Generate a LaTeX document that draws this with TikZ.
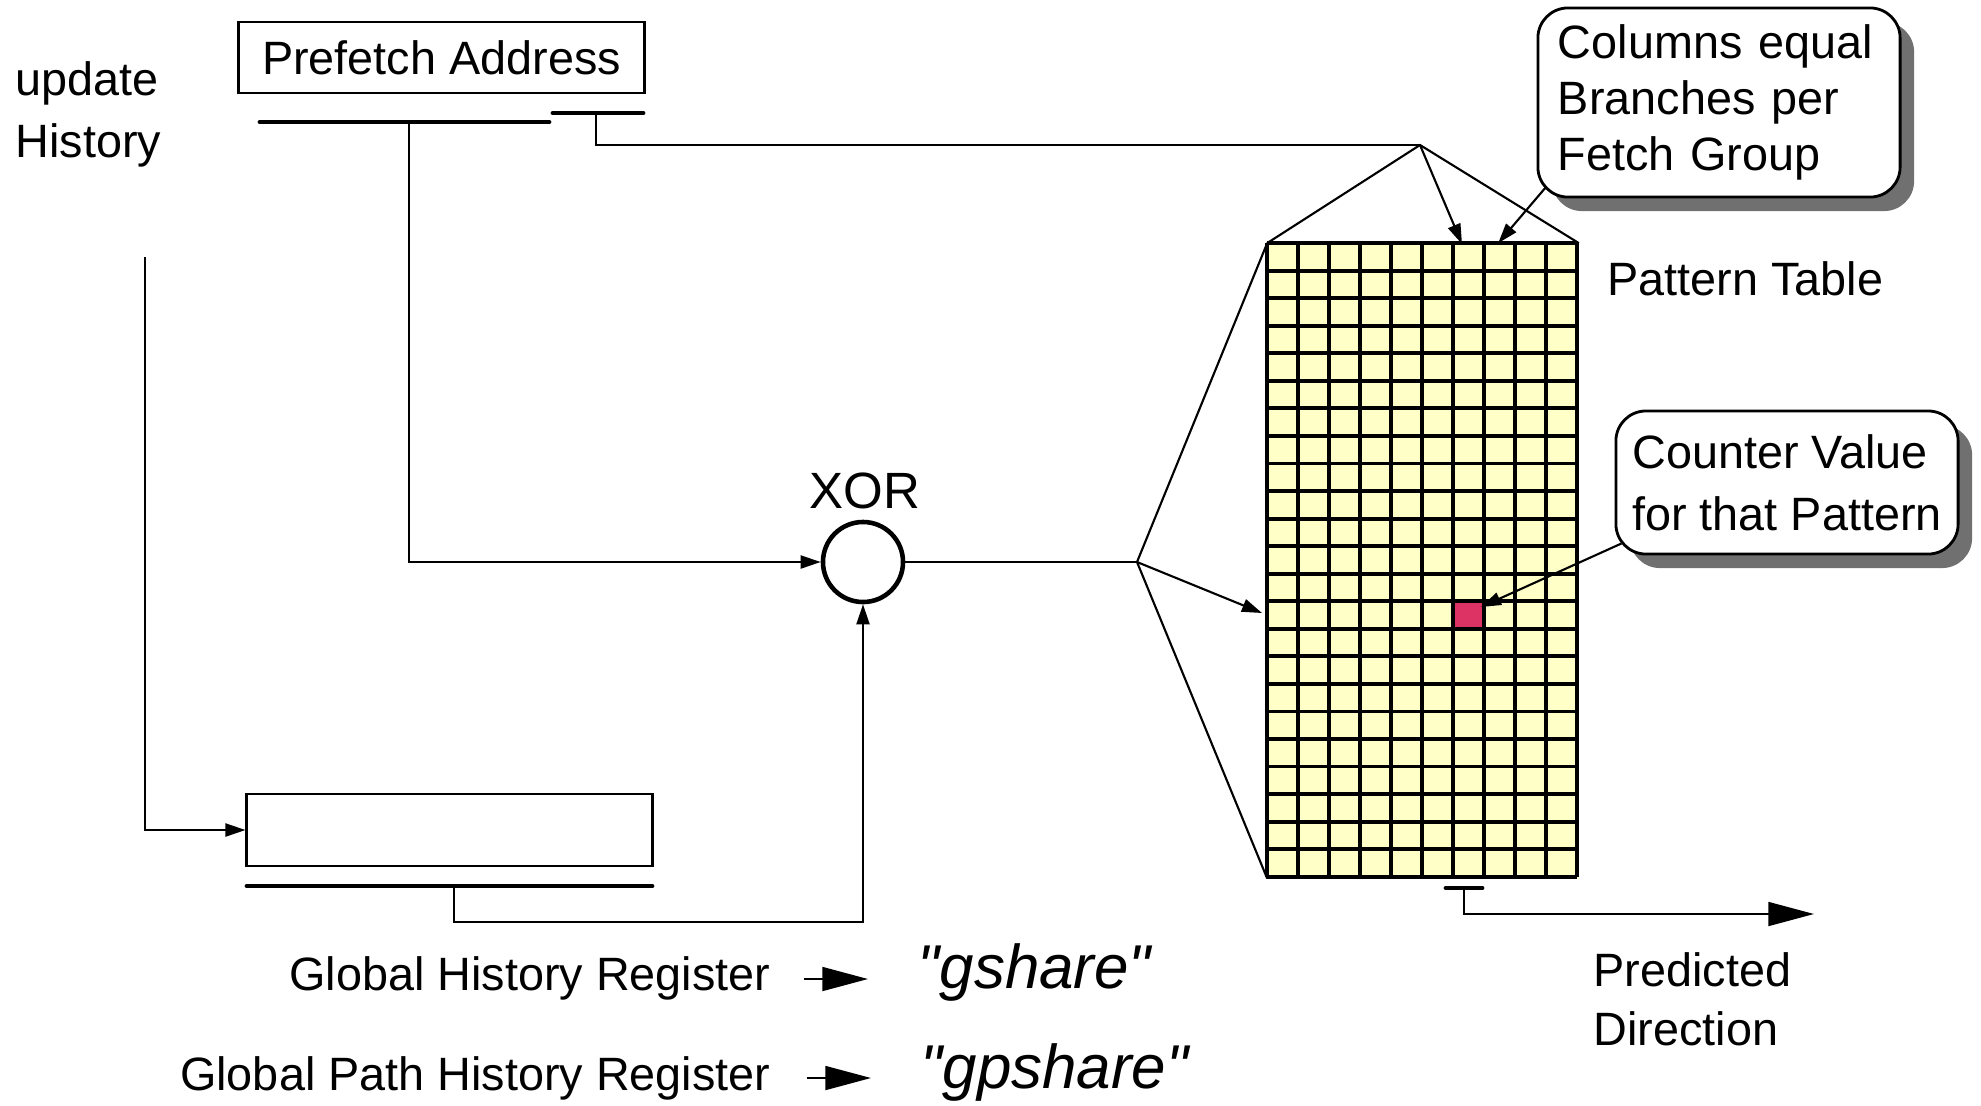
\documentclass[tikz,border=0pt]{standalone}
\usepackage{fontspec}
\setmainfont{Liberation Sans}
\usetikzlibrary{arrows.meta,shadows,calc}

% plain font without TeX mapping, so " stays straight
\font\schemefont="Liberation Sans/I" at 17.6pt

\definecolor{cellfill}{RGB}{255,255,200}
\definecolor{hitcell}{RGB}{220,50,100}
\definecolor{shadowgray}{RGB}{112,112,112}

\tikzset{
  lbl/.style={inner sep=0pt, font=\fontsize{13.3}{17.6}\selectfont},
  regbox/.style={draw, line width=0.8pt, inner sep=0pt},
  bar/.style={line width=1.4pt, line cap=round},
  wire/.style={line width=0.6pt},
  arr/.style={wire, -{Triangle[length=5.7pt,width=3.7pt]}},
  bigarr/.style={wire, -{Triangle[length=13pt,width=6.8pt]}},
  gridline/.style={line width=1.1pt},
  callout/.style={draw, line width=0.8pt, fill=white, rounded corners=0.3cm,
    drop shadow={shadow xshift=0.14cm, shadow yshift=-0.14cm, fill=shadowgray, opacity=1},
    align=left, inner sep=0pt, font=\fontsize{13.3}{15.9}\selectfont},
}

\begin{document}
\begin{tikzpicture}[x=0.01cm,y=-0.01cm]
  \useasboundingbox (0,0) rectangle (1981,1105);

  % prefetch address and its two bit fields
  \node[regbox, minimum width=4.05cm, minimum height=0.71cm, lbl] (pfaddr) at (441.5,57.5) {Prefetch Address};
  \coordinate (pfhiL) at (260,122);
  \coordinate (pfhiR) at (549,122);
  \coordinate (pfloL) at (553,113);
  \coordinate (pfloR) at (643,113);
  \draw[bar] (pfhiL) -- (pfhiR);
  \draw[bar] (pfloL) -- (pfloR);
  \coordinate (pfhitap) at (409,122);
  \coordinate (pflotap) at (596,113);

  \node[lbl, align=left, anchor=base west] (updlbl) at (15,157) {update\\History};

  % global history register
  \node[regbox, minimum width=4.05cm, minimum height=0.72cm] (ghr) at (449.5,830) {};
  \coordinate (ghrL) at (247,886);
  \coordinate (ghrR) at (652,886);
  \draw[bar] (ghrL) -- (ghrR);
  \coordinate (ghrtap) at (454,886);
  \coordinate (updtop) at (145,257);

  % xor
  \node[draw, circle, line width=1.3pt, minimum size=0.8cm, inner sep=0pt] (xor) at (863,562) {};
  \node[lbl, font=\fontsize{14.5}{17}\selectfont, anchor=base] (xorlbl) at (865,508) {XOR};

  % pattern table
  \node[minimum width=3.1cm, minimum height=6.3365cm, inner sep=0pt] (tbl) at (1423,560.8) {};
  \fill[cellfill] (tbl.north west) rectangle (tbl.south east);
  \fill[hitcell] ($(tbl.north west)+(186,358.15)$) rectangle ++(31,27.55);
  \foreach \i in {0,...,10}
    \draw[gridline] ($(tbl.north west)+(\i*31,0)$) -- ++(0,633.65);
  \foreach \j in {0,...,23}
    \draw[gridline] ($(tbl.north west)+(0,\j*27.55)$) -- ++(310,0);
  \node[lbl, anchor=base west] (tbllbl) at (1607,295) {Pattern Table};

  \coordinate (apex) at (1420,145);
  \coordinate (fan) at (1137,562);
  \coordinate (colin) at (1462,244);
  \coordinate (rowin) at (1262,613);
  \coordinate (hit) at (1481,607);

  % connectors
  \draw[arr] (pfhitap) |- (xor);
  \draw[arr] (ghrtap) -- ++(0,36) -| (xor);
  \draw[arr] (updtop) |- (ghr.west);
  \draw[wire] (pflotap) |- (apex);
  \draw[wire] (tbl.north west) -- (apex) -- (tbl.north east);
  \draw[arr] (apex) -- (colin);
  \draw[wire] (xor) -- (fan);
  \draw[wire] (tbl.north west) -- (fan) -- (tbl.south west);
  \draw[arr] (fan) -- (rowin);

  % notes
  \node[callout, minimum width=3.62cm, minimum height=1.89cm, text width=3.22cm] (colnote) at (1719,102.5)
    {Columns equal\\Branches per\\Fetch Group};
  \draw[arr] ($(colnote.south west)+(10,-12)$) -- ($(tbl.north west)+(231,0)$);
  \node[callout, minimum width=3.42cm, minimum height=1.43cm,
    font=\fontsize{13.3}{17.6}\selectfont] (cntnote) at (1787,482.5)
    {Counter Value\\for that Pattern};
  \draw[arr] ($(cntnote.south west)+(7,-12)$) -- (hit);

  % prediction output
  \coordinate (pdL) at (1446,888);
  \coordinate (pdR) at (1482,888);
  \draw[bar] (pdL) -- (pdR);
  \coordinate (pdtap) at (1464,888);
  \coordinate (pdend) at (1814,914);
  \draw[bigarr] (pdtap) |- (pdend);
  \node[lbl, align=left, anchor=base west, font=\fontsize{13.3}{16.5}\selectfont] (pdlbl) at (1593,1045) {Predicted\\Direction};

  % variants
  \node[lbl, anchor=base east] (ghrlbl) at (771,990) {Global History Register};
  \node[lbl, anchor=base east] (gphrlbl) at (771,1090) {Global Path History Register};
  \coordinate (g1a) at (804,979);
  \coordinate (g1b) at (868,979);
  \coordinate (g2a) at (807,1078);
  \coordinate (g2b) at (871,1078);
  \draw[bigarr] (g1a) -- (g1b);
  \draw[bigarr] (g2a) -- (g2b);
  \node[lbl, anchor=base west, font=\schemefont] (gshare) at (917,988) {"gshare"};
  \node[lbl, anchor=base west, font=\schemefont] (gpshare) at (920,1088) {"gpshare"};
\end{tikzpicture}
\end{document}
